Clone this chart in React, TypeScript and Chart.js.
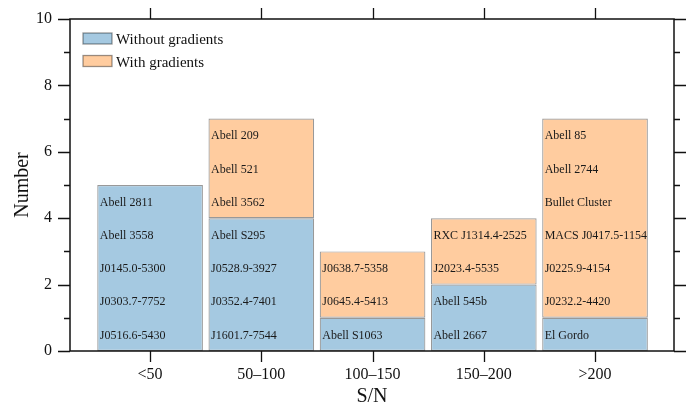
import { useEffect, useRef } from 'react';
import { Chart, registerables } from 'chart.js';

Chart.register(...registerables);

const categories = ['<50', '50–100', '100–150', '150–200', '>200'];
const withoutGradients = [5, 4, 1, 2, 1];
const withGradients = [0, 3, 2, 2, 6];
const yTickValues = [0, 2, 4, 6, 8, 10];
const yMinorValues = [1, 3, 5, 7, 9];
const clusterNames = [
  ['J0516.6-5430', 'J0303.7-7752', 'J0145.0-5300', 'Abell 3558', 'Abell 2811'],
  ['J1601.7-7544', 'J0352.4-7401', 'J0528.9-3927', 'Abell S295', 'Abell 3562', 'Abell 521', 'Abell 209'],
  ['Abell S1063', 'J0645.4-5413', 'J0638.7-5358'],
  ['Abell 2667', 'Abell 545b', 'J2023.4-5535', 'RXC J1314.4-2525'],
  ['El Gordo', 'J0232.2-4420', 'J0225.9-4154', 'MACS J0417.5-1154', 'Bullet Cluster', 'Abell 2744', 'Abell 85'],
];

const FONT = "'Liberation Serif', 'Times New Roman', serif";
const BLUE = 'rgb(165, 201, 225)';
const ORANGE = 'rgb(255, 204, 159)';
const EDGE = 'rgba(0, 0, 0, 0.4)';

const decorPlugin = {
  id: 'decor',
  afterDatasetsDraw(chart: any) {
    const { ctx, scales } = chart;
    const ys = scales.y;
    ctx.save();
    ctx.font = `12px ${FONT}`;
    ctx.fillStyle = '#1a1a1a';
    ctx.textAlign = 'left';
    ctx.textBaseline = 'middle';
    const meta = chart.getDatasetMeta(0);
    clusterNames.forEach((names, i) => {
      const el = meta.data[i];
      const left = el.x - el.width / 2;
      names.forEach((name, j) => {
        ctx.fillText(name, left + 2.5, ys.getPixelForValue(j + 0.5) + 1);
      });
    });
    ctx.restore();
  },
  afterDraw(chart: any) {
    const { ctx, chartArea, scales } = chart;
    const xs = scales.x;
    const ys = scales.y;
    const { left, right, top, bottom } = chartArea;
    ctx.save();
    ctx.strokeStyle = '#111';
    ctx.lineWidth = 1.3;
    ctx.beginPath();
    const drawY = (v: number, len: number) => {
      const y = Math.round(ys.getPixelForValue(v)) + 0.5;
      ctx.moveTo(left - len, y);
      ctx.lineTo(left, y);
      ctx.moveTo(right, y);
      ctx.lineTo(right + len, y);
    };
    yTickValues.forEach((v) => drawY(v, 12));
    yMinorValues.forEach((v) => drawY(v, 6));
    categories.forEach((_, i) => {
      const x = Math.round(xs.getPixelForValue(i)) + 0.5;
      ctx.moveTo(x, bottom);
      ctx.lineTo(x, bottom + 11);
      ctx.moveTo(x, top);
      ctx.lineTo(x, top - 11);
    });
    ctx.stroke();
    ctx.lineWidth = 1.5;
    ctx.strokeRect(left, top, right - left, bottom - top);
    const items = chart.data.datasets.map((d: any) => ({ label: d.label, color: d.backgroundColor }));
    ctx.font = `15px ${FONT}`;
    ctx.textAlign = 'left';
    ctx.textBaseline = 'alphabetic';
    items.forEach((it: any, k: number) => {
      const bx = left + 13;
      const by = top + 14 + k * 22.5;
      ctx.fillStyle = it.color;
      ctx.fillRect(bx, by, 29, 11);
      ctx.strokeStyle = EDGE;
      ctx.lineWidth = 1.3;
      ctx.strokeRect(bx, by, 29, 11);
      ctx.fillStyle = '#111';
      ctx.fillText(it.label, bx + 33, by + 11);
    });
    ctx.restore();
  },
};

export default function App() {
  const ref = useRef<HTMLCanvasElement>(null);
  useEffect(() => {
    document.body.style.margin = '0';
    const canvas = ref.current!;
    const chart = new Chart(canvas, {
      type: 'bar',
      data: {
        datasets: [
          {
            label: 'Without gradients',
            data: withoutGradients.map((v, i) => ({ x: i, y: v })),
            backgroundColor: BLUE,
            borderColor: EDGE,
            borderWidth: 1.2,
            borderSkipped: false,
            barPercentage: 0.95,
            categoryPercentage: 1,
          },
          {
            label: 'With gradients',
            data: withGradients.map((v, i) => ({ x: i, y: v })),
            backgroundColor: ORANGE,
            borderColor: EDGE,
            borderWidth: 1.2,
            borderSkipped: false,
            barPercentage: 0.95,
            categoryPercentage: 1,
          },
        ],
      },
      options: {
        responsive: false,
        animation: false,
        layout: { padding: { top: 19, right: 17, left: 0, bottom: 0 } },
        plugins: { legend: { display: false }, tooltip: { enabled: false } },
        scales: {
          x: {
            type: 'linear',
            stacked: true,
            offset: false,
            min: -0.72,
            max: 4.71,
            afterBuildTicks: (scale: any) => {
              scale.ticks = categories.map((_, i) => ({ value: i }));
            },
            afterFit: (scale: any) => {
              scale.height = 54;
            },
            grid: { display: false, drawTicks: true, tickLength: 14, offset: false },
            border: { display: false },
            ticks: {
              autoSkip: false,
              maxRotation: 0,
              padding: 0,
              color: '#111',
              font: { family: FONT, size: 16 },
              callback: (v: any) => categories[Math.round(Number(v))],
            },
            title: {
              display: true,
              text: 'S/N',
              color: '#111',
              font: { family: FONT, size: 20, lineHeight: 1 },
              padding: { top: 0, bottom: -2 },
            },
          },
          y: {
            stacked: true,
            min: 0,
            max: 10,
            afterBuildTicks: (scale: any) => {
              scale.ticks = yTickValues.map((v) => ({ value: v }));
            },
            afterFit: (scale: any) => {
              scale.width = 70;
            },
            grid: { display: false, drawTicks: true, tickLength: 18 },
            border: { display: false },
            ticks: {
              padding: 0,
              color: '#111',
              font: { family: FONT, size: 16 },
            },
            title: {
              display: true,
              text: 'Number',
              color: '#111',
              font: { family: FONT, size: 20 },
              padding: { top: 11, bottom: 0 },
            },
          },
        },
      },
      plugins: [decorPlugin],
    });
    return () => chart.destroy();
  }, []);
  return (
    <div style={{ width: 691, height: 405 }}>
      <canvas ref={ref} width={691} height={405} style={{ display: 'block' }} />
    </div>
  );
}
